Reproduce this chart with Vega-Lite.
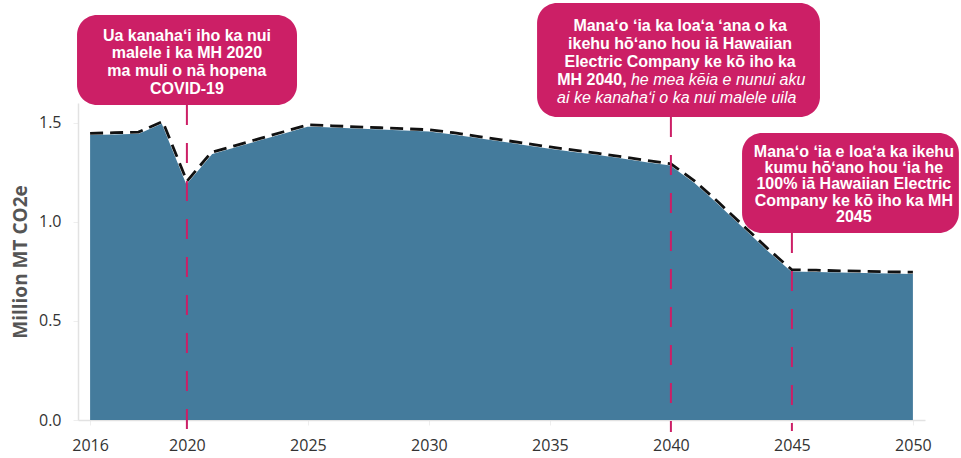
{
  "$schema": "https://vega.github.io/schema/vega-lite/v6.json",
  "autosize": {"type": "none"},
  "width": 847,
  "height": 317,
  "padding": {"left": 78, "top": 103, "right": 36, "bottom": 38},
  "background": "white",
  "config": {"view": {"stroke": null}},
  "datasets": {
    "series": [
      {"year": 2016, "value": 1.447}, {"year": 2017, "value": 1.450}, {"year": 2018, "value": 1.453},
      {"year": 2019, "value": 1.507}, {"year": 2020, "value": 1.205}, {"year": 2021, "value": 1.350},
      {"year": 2022, "value": 1.385}, {"year": 2023, "value": 1.420}, {"year": 2024, "value": 1.455},
      {"year": 2025, "value": 1.490}, {"year": 2026, "value": 1.485}, {"year": 2027, "value": 1.480},
      {"year": 2028, "value": 1.475}, {"year": 2029, "value": 1.470}, {"year": 2030, "value": 1.465},
      {"year": 2031, "value": 1.450}, {"year": 2032, "value": 1.432}, {"year": 2033, "value": 1.414},
      {"year": 2034, "value": 1.396}, {"year": 2035, "value": 1.378}, {"year": 2036, "value": 1.362},
      {"year": 2037, "value": 1.346}, {"year": 2038, "value": 1.328}, {"year": 2039, "value": 1.310},
      {"year": 2040, "value": 1.293}, {"year": 2041, "value": 1.205}, {"year": 2042, "value": 1.095},
      {"year": 2043, "value": 0.980}, {"year": 2044, "value": 0.865}, {"year": 2045, "value": 0.758},
      {"year": 2046, "value": 0.756}, {"year": 2047, "value": 0.753}, {"year": 2048, "value": 0.751},
      {"year": 2049, "value": 0.748}, {"year": 2050, "value": 0.746}
    ],
    "rules": [
      {"year": 2020, "top": 1.59, "bottom": -0.061},
      {"year": 2040, "top": 1.529, "bottom": -0.061},
      {"year": 2045, "top": 0.944, "bottom": -0.055}
    ],
    "boxes": [
      {"x1": 2015.46, "x2": 2024.55, "y1": 2.044, "y2": 1.59},
      {"x1": 2034.47, "x2": 2046.16, "y1": 2.105, "y2": 1.529},
      {"x1": 2042.94, "x2": 2051.9, "y1": 1.449, "y2": 0.944}
    ],
    "notes": [
      {"kind": "bc", "x": 2020.0, "y": 1.938, "t": "Ua kanahaʻi iho ka nui"},
      {"kind": "bc", "x": 2020.0, "y": 1.850, "t": "malele i ka MH 2020"},
      {"kind": "bc", "x": 2020.0, "y": 1.7615, "t": "ma muli o nā hopena"},
      {"kind": "bc", "x": 2020.0, "y": 1.673, "t": "COVID-19"},
      {"kind": "bc", "x": 2040.38, "y": 1.9886, "t": "Manaʻo ʻia ka loaʻa ʻana o ka"},
      {"kind": "bc", "x": 2040.38, "y": 1.8978, "t": "ikehu hōʻano hou iā Hawaiian"},
      {"kind": "bc", "x": 2040.38, "y": 1.8069, "t": "Electric Company ke kō iho ka"},
      {"kind": "br", "x": 2038.17, "y": 1.7161, "t": "MH 2040,"},
      {"kind": "il", "x": 2038.35, "y": 1.7161, "t": "he mea kēia e nunui aku"},
      {"kind": "ic", "x": 2040.24, "y": 1.6252, "t": "ai ke kanahaʻi o ka nui malele uila"},
      {"kind": "bc", "x": 2047.56, "y": 1.3552, "t": "Manaʻo ʻia e loaʻa ka ikehu"},
      {"kind": "bc", "x": 2047.56, "y": 1.2724, "t": "kumu hōʻano hou ʻia he"},
      {"kind": "bc", "x": 2047.56, "y": 1.1897, "t": "100% iā Hawaiian Electric"},
      {"kind": "bc", "x": 2047.56, "y": 1.1069, "t": "Company ke kō iho ka MH"},
      {"kind": "bc", "x": 2047.56, "y": 1.0241, "t": "2045"}
    ]
  },
  "layer": [
    {
      "data": {"name": "series"},
      "mark": {"type": "area", "color": "#447b9c", "opacity": 1},
      "encoding": {
        "x": {
          "field": "year", "type": "quantitative",
          "scale": {"domain": [2015.5, 2050.5], "nice": false, "zero": false},
          "axis": {
            "title": null, "values": [2016, 2020, 2025, 2030, 2035, 2040, 2045, 2050], "format": "d",
            "grid": false, "domainColor": "#e2e2e2", "domainWidth": 1.5,
            "tickColor": "#eeeeee", "tickSize": 5, "labelPadding": 12,
            "labelFont": "Open Sans", "labelFontSize": 16, "labelFontWeight": 500, "labelColor": "#333333"
          }
        },
        "y": {
          "field": "value", "type": "quantitative",
          "scale": {"domain": [0, 1.6], "nice": false},
          "axis": {
            "title": "Million MT CO2e", "values": [0, 0.5, 1, 1.5], "format": ".1f",
            "grid": false, "domainColor": "#e2e2e2", "domainWidth": 1.5,
            "tickColor": "#eeeeee", "tickSize": 5, "labelPadding": 12,
            "labelFont": "Open Sans", "labelFontSize": 16, "labelFontWeight": 500, "labelColor": "#333333",
            "titleFont": "Open Sans", "titleFontSize": 19, "titleFontWeight": "bold", "titleColor": "#555555",
            "titlePadding": 8
          }
        }
      }
    },
    {
      "data": {"name": "series"},
      "mark": {"type": "line", "color": "#ffffff", "strokeWidth": 3.5},
      "encoding": {"x": {"field": "year", "type": "quantitative"}, "y": {"field": "value", "type": "quantitative"}}
    },
    {
      "data": {"name": "series"},
      "mark": {"type": "line", "color": "#111111", "strokeWidth": 2.8, "strokeDash": [13, 7]},
      "encoding": {"x": {"field": "year", "type": "quantitative"}, "y": {"field": "value", "type": "quantitative"}}
    },
    {
      "data": {"name": "rules"},
      "mark": {"type": "rule", "color": "#cc1f66", "strokeWidth": 2, "strokeDash": [20, 18]},
      "encoding": {
        "x": {"field": "year", "type": "quantitative"},
        "y": {"field": "top", "type": "quantitative"},
        "y2": {"field": "bottom"}
      }
    },
    {
      "data": {"name": "boxes"},
      "mark": {"type": "rect", "color": "#cc1f66", "cornerRadius": 20},
      "encoding": {
        "x": {"field": "x1", "type": "quantitative"},
        "x2": {"field": "x2"},
        "y": {"field": "y1", "type": "quantitative"},
        "y2": {"field": "y2"}
      }
    },
    {
      "data": {"name": "notes"},
      "transform": [{"filter": "datum.kind == 'bc'"}],
      "mark": {"type": "text", "color": "white", "font": "Liberation Sans", "fontSize": 16, "fontWeight": "bold", "align": "center", "baseline": "middle"},
      "encoding": {
        "x": {"field": "x", "type": "quantitative"},
        "y": {"field": "y", "type": "quantitative"},
        "text": {"field": "t", "type": "nominal"}
      }
    },
    {
      "data": {"name": "notes"},
      "transform": [{"filter": "datum.kind == 'br'"}],
      "mark": {"type": "text", "color": "white", "font": "Liberation Sans", "fontSize": 16, "fontWeight": "bold", "align": "right", "baseline": "middle"},
      "encoding": {
        "x": {"field": "x", "type": "quantitative"},
        "y": {"field": "y", "type": "quantitative"},
        "text": {"field": "t", "type": "nominal"}
      }
    },
    {
      "data": {"name": "notes"},
      "transform": [{"filter": "datum.kind == 'il'"}],
      "mark": {"type": "text", "color": "white", "font": "Liberation Sans", "fontSize": 16, "fontStyle": "italic", "align": "left", "baseline": "middle"},
      "encoding": {
        "x": {"field": "x", "type": "quantitative"},
        "y": {"field": "y", "type": "quantitative"},
        "text": {"field": "t", "type": "nominal"}
      }
    },
    {
      "data": {"name": "notes"},
      "transform": [{"filter": "datum.kind == 'ic'"}],
      "mark": {"type": "text", "color": "white", "font": "Liberation Sans", "fontSize": 16, "fontStyle": "italic", "align": "center", "baseline": "middle"},
      "encoding": {
        "x": {"field": "x", "type": "quantitative"},
        "y": {"field": "y", "type": "quantitative"},
        "text": {"field": "t", "type": "nominal"}
      }
    }
  ]
}
